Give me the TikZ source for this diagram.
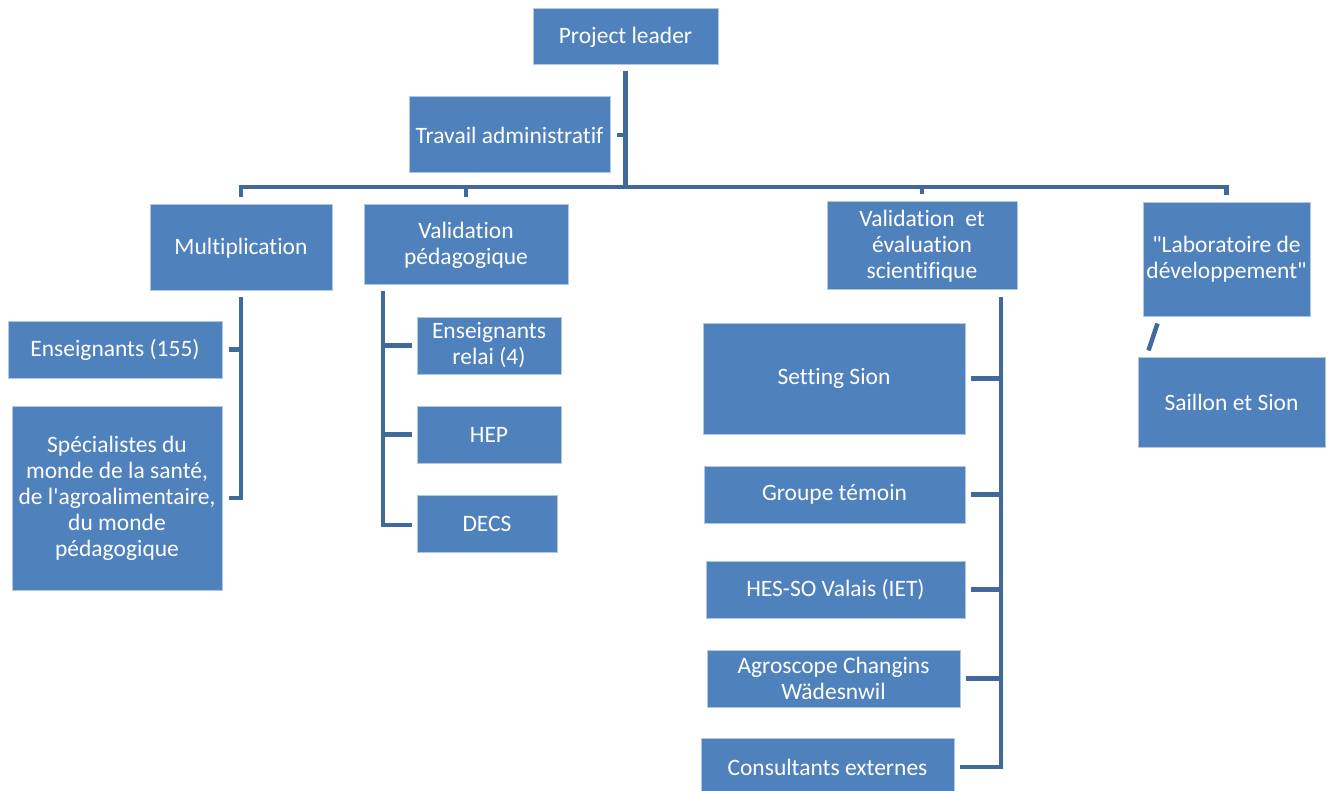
\documentclass[tikz,border=0pt]{standalone}
\usepackage{fontspec}
\setmainfont{Carlito}[Ligatures={TeXOff,NoCommon}]
\definecolor{boxblue}{HTML}{4F81BD}
\definecolor{lineblue}{HTML}{41699B}
\tikzset{
  box/.style={fill=boxblue,draw=white!55!boxblue,line width=1pt,text=white,align=center,inner sep=0pt,font=\fontsize{23.5}{26}\selectfont},
  conn/.style={draw=lineblue,line width=4.5pt}
}
\begin{document}
\begin{tikzpicture}[x=1pt,y=-1pt]
\useasboundingbox (0,0) rectangle (1329,791);
% top
\node[box,minimum width=185pt,minimum height=56pt] (pl)at(625.5,37){Project leader};
\node[box,minimum width=201pt,minimum height=76pt] (ta)at(509.5,135){Travail administratif};
\coordinate (bus)at(625.5,187);
% second row
\node[box,minimum width=182pt,minimum height=86pt] (mu)at(241,248){Multiplication};
\node[box,minimum width=204pt,minimum height=80pt] (vp)at(466,245){Validation\\p\'edagogique};
\node[box,minimum width=190pt,minimum height=88pt] (vs)at(922,246){Validation~ et\\\'evaluation\\scientifique};
\node[box,minimum width=167pt,minimum height=113pt] (lab)at(1226.5,259.5){"Laboratoire de\\d\'eveloppement"};
% multiplication
\node[box,minimum width=214pt,minimum height=57pt] (en)at(115,349.5){Enseignants (155)};
\node[box,minimum width=210pt,minimum height=184pt] (sp)at(117,498){Sp\'ecialistes du\\monde de la sant\'e,\\de l'agroalimentaire,\\du monde\\p\'edagogique};
% validation pedagogique
\node[box,minimum width=144pt,minimum height=57pt] (er)at(489,345.5){Enseignants\\relai (4)};
\node[box,minimum width=144pt,minimum height=57pt] (hep)at(489,434.5){HEP};
\node[box,minimum width=140pt,minimum height=57pt] (dc)at(487,523.5){DECS};
\coordinate (vpstem)at(383,291);
% validation scientifique
\node[box,minimum width=262pt,minimum height=111pt] (ss)at(834,378.5){Setting Sion};
\node[box,minimum width=261pt,minimum height=57pt] (gt)at(834.5,494.5){Groupe t\'emoin};
\node[box,minimum width=259pt,minimum height=57pt] (hs)at(835.5,589.5){HES-SO Valais (IET)};
\node[box,minimum width=253pt,minimum height=57pt] (ag)at(833.5,678.5){Agroscope Changins\\W\"adesnwil};
\node[box,minimum width=253pt,minimum height=58pt] (ce)at(827.5,767){Consultants externes};
\coordinate (vsstem)at(1001,297);
% laboratoire
\node[box,minimum width=187pt,minimum height=90pt] (sa)at(1231.5,402){Saillon et Sion};
% connectors
\draw[conn] ([yshift=-6pt]pl.south) -- (bus);
\draw[conn] ([xshift=6pt]ta.east) -- (ta.east -| bus);
\draw[conn] ([yshift=7pt]mu.north) |- (bus) -| ([yshift=7pt]lab.north);
\draw[conn] ([yshift=7pt]vp.north) -- (vp.north |- bus);
\draw[conn] ([yshift=7pt]vs.north) -- (vs.north |- bus);
\draw[conn] ([yshift=-6pt]mu.south) |- ([xshift=6pt]sp.east);
\draw[conn] ([xshift=6pt]en.east) -- (en.east -| mu.south);
\draw[conn] (vpstem) |- ([xshift=-5pt,yshift=-1.5pt]dc.west);
\draw[conn] ([xshift=-5pt]er.west) -- (er.west -| vpstem);
\draw[conn] ([xshift=-5pt]hep.west) -- (hep.west -| vpstem);
\draw[conn] (vsstem) |- ([xshift=5pt]ce.east);
\draw[conn] ([xshift=5pt]ss.east) -- (ss.east -| vsstem);
\draw[conn] ([xshift=5pt]gt.east) -- (gt.east -| vsstem);
\draw[conn] ([xshift=5pt]hs.east) -- (hs.east -| vsstem);
\draw[conn] ([xshift=5pt]ag.east) -- (ag.east -| vsstem);
\draw[conn] ([xshift=15pt,yshift=-7pt]lab.south west) -- ([xshift=11pt,yshift=6pt]sa.north west);
\end{tikzpicture}
\end{document}
